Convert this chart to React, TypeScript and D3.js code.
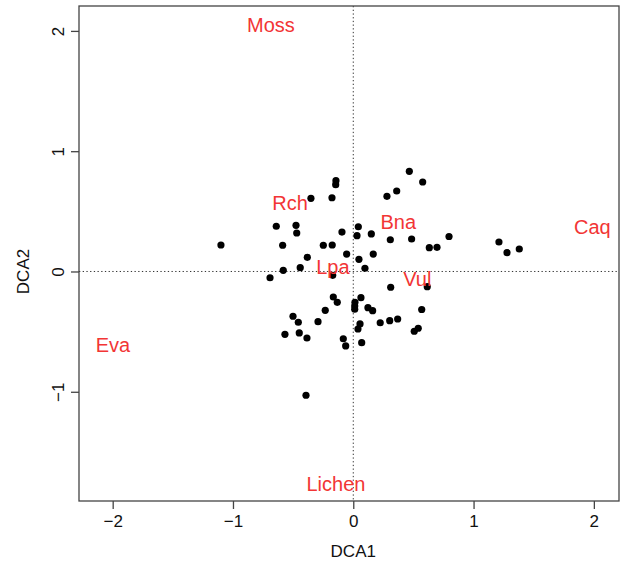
import { useEffect, useRef } from "react";
import * as d3 from "d3";

// site scores (DCA1, DCA2)
const siteX = [
  0.466, 0.577, -0.144, -0.146, -0.352, -0.177, 0.361, 0.28, -0.64, -0.476,
  -0.47, -0.587, -1.1, -0.094, 0.042, 0.031, 0.15, -0.249, -0.175, 0.308,
  0.485, 0.632, 0.696, 0.796, -0.055, 0.166, -0.382, 0.047, -0.441, -0.582,
  0.097, -0.692, -0.171, 0.311, 0.615, -0.166, -0.133, 0.064, 0.014, 0.012,
  0.012, 0.122, 0.161, -0.233, 0.569, -0.501, -0.457, -0.293, 0.224, 0.303,
  0.369, 0.056, 0.039, 0.54, 0.507, -0.568, -0.449, -0.385, -0.083, -0.063,
  0.07, -0.393, 1.211, 1.278, 1.38,
];
const siteY = [
  0.833, 0.744, 0.755, 0.722, 0.608, 0.613, 0.669, 0.625, 0.376, 0.384,
  0.32, 0.218, 0.22, 0.328, 0.372, 0.298, 0.312, 0.218, 0.22, 0.264,
  0.27, 0.198, 0.201, 0.291, 0.145, 0.145, 0.118, 0.101, 0.032, 0.01,
  0.027, -0.052, -0.032, -0.131, -0.126, -0.212, -0.256, -0.218, -0.256, -0.287,
  -0.314, -0.301, -0.326, -0.323, -0.316, -0.372, -0.422, -0.417, -0.426, -0.409,
  -0.395, -0.436, -0.478, -0.472, -0.497, -0.522, -0.511, -0.553, -0.559, -0.619,
  -0.592, -1.029, 0.245, 0.156, 0.187,
];

// species scores
const species = ["Moss", "Rch", "Bna", "Lpa", "Vul", "Caq", "Eva", "Lichen"];
const speciesX = [-0.684, -0.526, 0.374, -0.169, 0.532, 1.987, -1.998, -0.144];
const speciesY = [2.049, 0.567, 0.414, 0.04, -0.057, 0.37, -0.611, -1.766];

const xTicks = [-2, -1, 0, 1, 2];
const yTicks = [-1, 0, 1, 2];

export default function App() {
  const ref = useRef<SVGSVGElement>(null);

  useEffect(() => {
    const width = 620,
      height = 566;
    const left = 79,
      right = 619,
      top = 6,
      bottom = 501;

    const svg = d3.select(ref.current);
    svg.selectAll("*").remove();
    svg.attr("width", width).attr("height", height);

    const x = d3.scaleLinear().domain([-2.28, 2.209]).range([left, right]);
    const y = d3.scaleLinear().domain([-1.908, 2.207]).range([bottom, top]);

    const font = "'Liberation Sans', Arial, Helvetica, sans-serif";

    // dotted zero lines
    svg
      .append("line")
      .attr("x1", left)
      .attr("x2", right)
      .attr("y1", y(0))
      .attr("y2", y(0))
      .attr("stroke", "#333")
      .attr("stroke-width", 1)
      .attr("stroke-dasharray", "1.3,2.4");
    svg
      .append("line")
      .attr("x1", x(0))
      .attr("x2", x(0))
      .attr("y1", top)
      .attr("y2", bottom)
      .attr("stroke", "#333")
      .attr("stroke-width", 1)
      .attr("stroke-dasharray", "1.3,2.4");

    // box
    svg
      .append("rect")
      .attr("x", left)
      .attr("y", top)
      .attr("width", right - left)
      .attr("height", bottom - top)
      .attr("fill", "none")
      .attr("stroke", "#444")
      .attr("stroke-width", 1.3);

    // axes (R style)
    const xAxis = svg
      .append("g")
      .attr("transform", `translate(0,${bottom})`)
      .call(d3.axisBottom(x).tickValues(xTicks).tickSize(8).tickPadding(6).tickFormat((d) => d3.format("")(d as number).replace("-", "\u2212")));
    xAxis.select(".domain").remove();
    xAxis.selectAll("line").attr("stroke", "#444").attr("stroke-width", 1.3);
    xAxis.selectAll("text").style("font-size", "17px").style("font-family", font).attr("fill", "#111");

    const yAxis = svg
      .append("g")
      .attr("transform", `translate(${left},0)`)
      .call(d3.axisLeft(y).tickValues(yTicks).tickSize(8).tickFormat((d) => d3.format("")(d as number).replace("-", "\u2212")));
    yAxis.select(".domain").remove();
    yAxis.selectAll("line").attr("stroke", "#444").attr("stroke-width", 1.3);
    yAxis
      .selectAll("text")
      .attr("x", null)
      .attr("dy", null)
      .attr("text-anchor", "middle")
      .attr("transform", "translate(-21,0) rotate(-90) translate(0,6)")
      .style("font-size", "17px")
      .style("font-family", font)
      .attr("fill", "#111");

    // axis titles
    svg
      .append("text")
      .attr("x", x(0))
      .attr("y", 557)
      .attr("text-anchor", "middle")
      .style("font-size", "17px")
      .style("font-family", font)
      .attr("fill", "#111")
      .text("DCA1");
    svg
      .append("text")
      .attr("transform", `translate(29,${y(0)}) rotate(-90)`)
      .attr("text-anchor", "middle")
      .style("font-size", "17px")
      .style("font-family", font)
      .attr("fill", "#111")
      .text("DCA2");

    // sites
    svg
      .append("g")
      .selectAll("circle")
      .data(siteX.map((v, i) => [v, siteY[i]]))
      .enter()
      .append("circle")
      .attr("cx", (d) => x(d[0]))
      .attr("cy", (d) => y(d[1]))
      .attr("r", 3.6)
      .attr("fill", "#000");

    // species labels
    svg
      .append("g")
      .selectAll("text")
      .data(species)
      .enter()
      .append("text")
      .attr("x", (_, i) => x(speciesX[i]))
      .attr("y", (_, i) => y(speciesY[i]))
      .attr("dy", "0.36em")
      .attr("text-anchor", "middle")
      .style("font-size", "20px")
      .style("font-family", font)
      .attr("fill", "#f23535")
      .text((d) => d);
  }, []);

  return <svg ref={ref} style={{ position: "absolute", left: 0, top: 0 }} />;
}
